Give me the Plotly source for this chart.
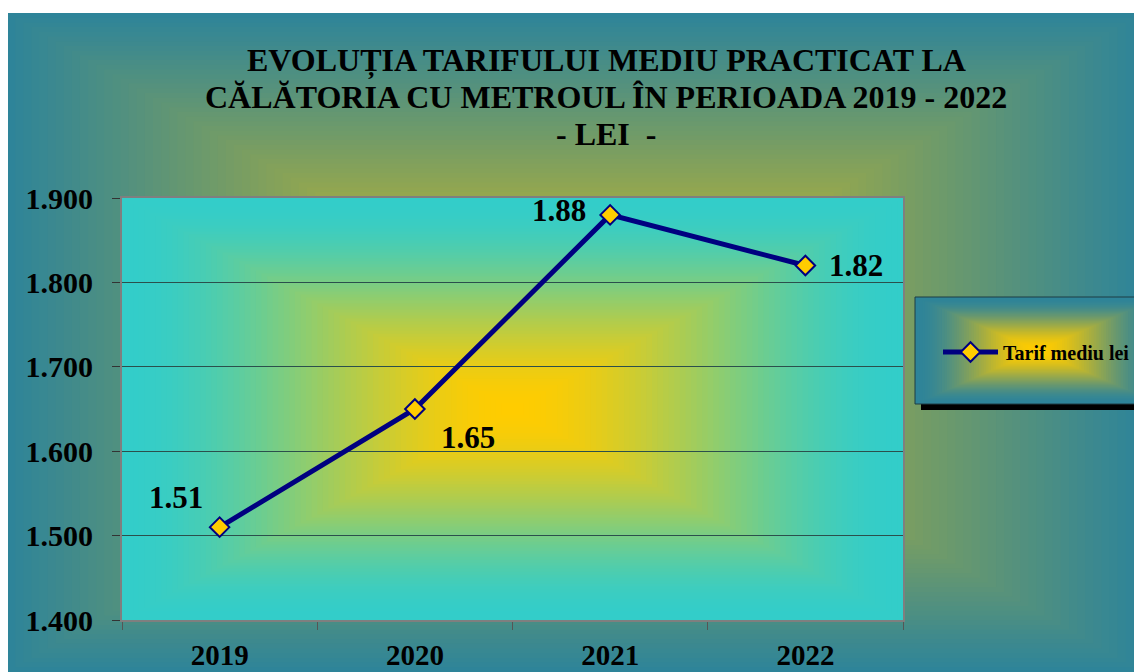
import plotly.graph_objects as go

# data
years = ["2019", "2020", "2021", "2022"]
tarif = [1.51, 1.65, 1.88, 1.82]
y_ticks = [1.4, 1.5, 1.6, 1.7, 1.8, 1.9]
title_lines = [
    "EVOLUȚIA TARIFULUI MEDIU PRACTICAT LA",
    "CĂLĂTORIA CU METROUL ÎN PERIOADA 2019 - 2022",
    "- LEI  -",
]
label_shift = [(-44, 30), (53, -28), (-51, 4), (51, 0)]

FONT = "Liberation Serif, Times New Roman, serif"
OFF = 8  # page body margin, reference pixels -> figure pixels
W, H = 1142 - OFF, 672 - OFF
PL, PR, PT, PB = 122 - OFF, 903 - OFF, 198 - OFF, 620 - OFF


def px_x(p):
    return (p - OFF - PL) / (PR - PL)


def px_y(p):
    return (PB - (p - OFF)) / (PB - PT)


def lerp(c1, c2, t):
    return "rgb(%d,%d,%d)" % tuple(round(a + (b - a) * t) for a, b in zip(c1, c2))


def smooth(t):
    return t * t * (3 - 2 * t)


def rect_gradient(x0, y0, x1, y1, inner, outer, steps=60, profile=lambda t: t):
    """rectangular 'from centre' gradient made of nested rectangles (reference pixel coords)"""
    cx, cy = (x0 + x1) / 2, (y0 + y1) / 2
    hx, hy = (x1 - x0) / 2, (y1 - y0) / 2
    out = []
    for i in range(steps, 0, -1):
        t = i / steps
        out.append(dict(
            type="rect", xref="paper", yref="paper", layer="below",
            x0=px_x(cx - hx * t), x1=px_x(cx + hx * t),
            y0=px_y(cy + hy * t), y1=px_y(cy - hy * t),
            fillcolor=lerp(inner, outer, profile(t)), line=dict(width=0),
        ))
    return out


TEAL = (46, 132, 153)
YELLOW = (255, 204, 0)
CYAN = (51, 205, 201)

shapes = []
shapes += rect_gradient(7, 13, 1142, 672, YELLOW, TEAL, steps=70,
                        profile=lambda t: t ** 0.85)
shapes += rect_gradient(122, 198, 903, 620, YELLOW, CYAN, steps=70, profile=smooth)
# legend box with shadow
shapes.append(dict(type="rect", xref="paper", yref="paper", layer="below",
                   x0=px_x(921), x1=px_x(1165), y0=px_y(410), y1=px_y(303),
                   fillcolor="black", line=dict(width=0)))
shapes += rect_gradient(915, 297, 1160, 404, YELLOW, TEAL, steps=50, profile=smooth)
shapes.append(dict(type="rect", xref="paper", yref="paper", layer="below",
                   x0=px_x(915), x1=px_x(1160), y0=px_y(404), y1=px_y(297),
                   fillcolor="rgba(0,0,0,0)", line=dict(color="#1d3d44", width=1)))

fig = go.Figure()
fig.add_trace(go.Scatter(
    x=years, y=tarif, mode="lines+markers", name="Tarif mediu lei",
    line=dict(color="#000080", width=5),
    marker=dict(symbol="diamond", size=15, color="#ffcc00",
                line=dict(color="#000080", width=2)),
    cliponaxis=False,
))

# value labels next to the points
for i, (v, (dx, dy)) in enumerate(zip(tarif, label_shift)):
    fig.add_annotation(x=i, y=v, xref="x", yref="y", text="<b>%.2f</b>" % v,
                       showarrow=False, xshift=dx, yshift=dy,
                       font=dict(family=FONT, size=31, color="black"))

# title, one line per annotation to get the tighter line spacing
for line, yc in zip(title_lines, [60, 97, 134]):
    fig.add_annotation(x=px_x(606), y=px_y(yc), xref="paper", yref="paper",
                       text="<b>%s</b>" % line, showarrow=False,
                       xanchor="center", yanchor="middle",
                       font=dict(family=FONT, size=32, color="black"))

fig.update_layout(
    width=W, height=H,
    margin=dict(l=PL, r=W - PR, t=PT, b=H - PB, autoexpand=False),
    paper_bgcolor="white", plot_bgcolor="rgba(0,0,0,0)",
    shapes=shapes,
    showlegend=True,
    legend=dict(x=px_x(938), y=px_y(352), xanchor="left", yanchor="middle",
                bgcolor="rgba(0,0,0,0)", borderwidth=0, itemwidth=55,
                font=dict(family=FONT, size=20, color="black", weight="bold")),
    font=dict(family=FONT, color="black"),
)

fig.update_xaxes(
    type="category", range=[-0.5, 3.5], showgrid=False, automargin=False,
    showline=True, linecolor="#7f7f7f", linewidth=2, mirror=True,
    ticks="outside", tickson="boundaries", ticklen=8, tickcolor="#555555",
    ticklabelstandoff=8,
    tickfont=dict(family=FONT, size=29, color="black", weight="bold"),
)
fig.update_yaxes(
    range=[1.4, 1.9], tickvals=y_ticks, tickformat=".3f", automargin=False,
    showgrid=True, gridcolor="#2b4f4c", gridwidth=1,
    showline=True, linecolor="#7f7f7f", linewidth=2, mirror=True,
    ticks="outside", ticklen=8, tickcolor="#333333",
    ticklabelstandoff=13, zeroline=False,
    tickfont=dict(family=FONT, size=30, color="black", weight="bold"),
)

fig.write_html("out.html")
